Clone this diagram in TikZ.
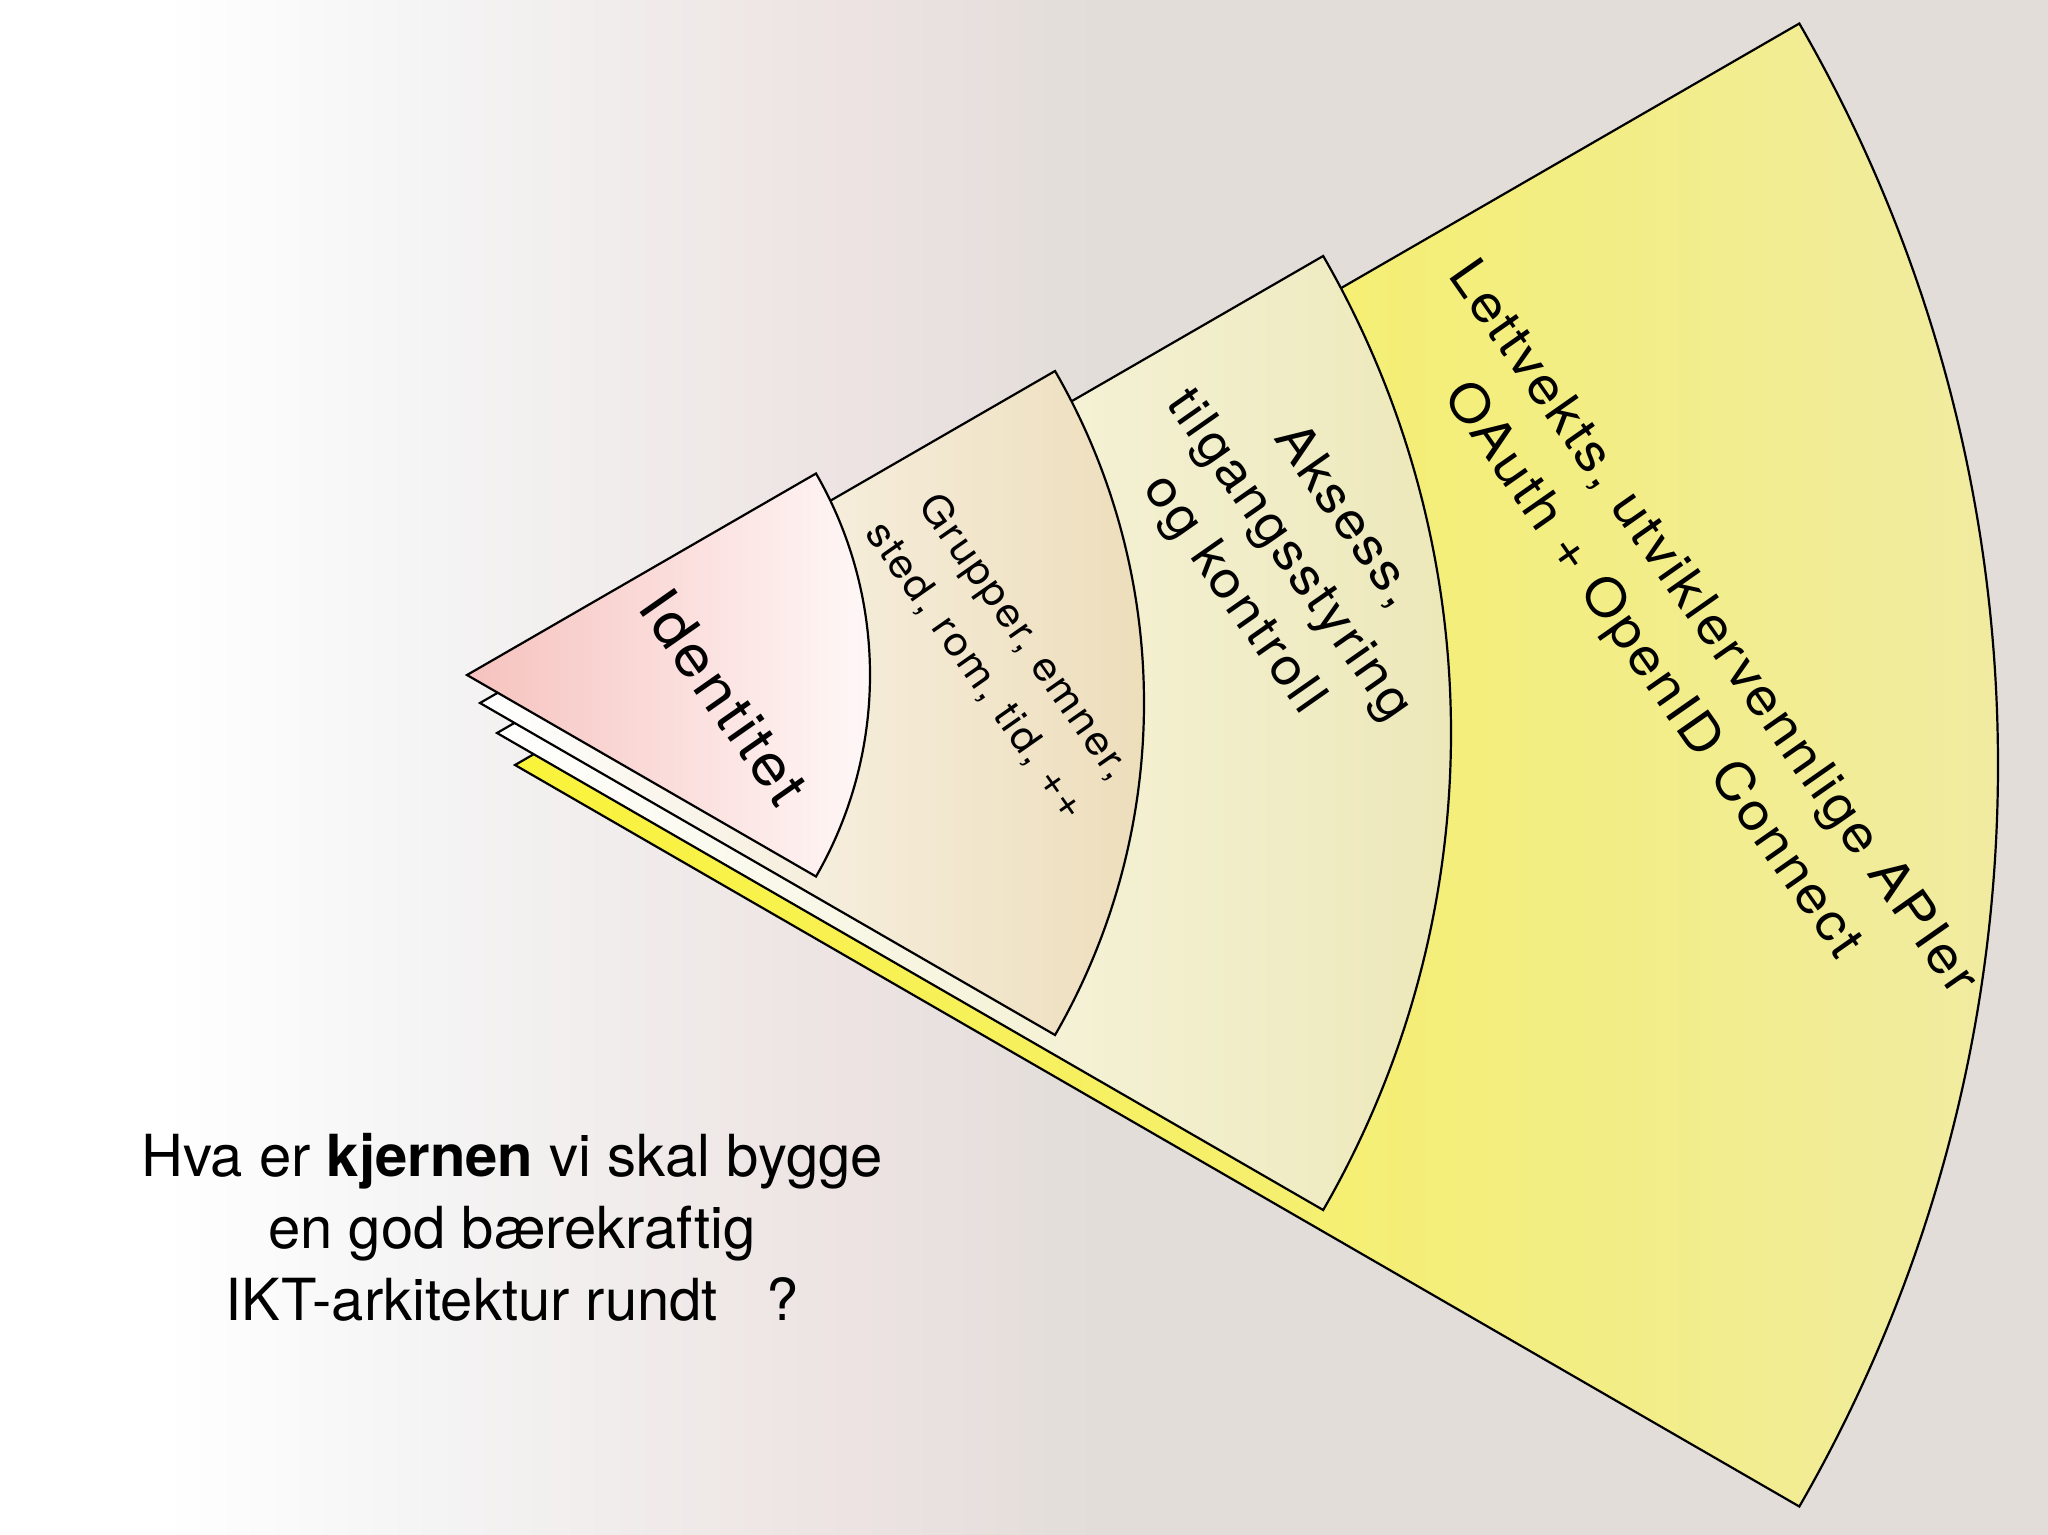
\documentclass[tikz,border=0pt]{standalone}
\usepackage{fontspec}
\setmainfont{TeX Gyre Heros}
\newfontfamily\layerfont{TeX Gyre Heros}[LetterSpace=5]
\definecolor{bgpale}{HTML}{F5F5F5}
\definecolor{bgmist}{HTML}{F0EBEA}
\definecolor{bgrose}{HTML}{ECE3E2}
\definecolor{bgtaupe}{HTML}{E2DDD9}
\definecolor{idpink}{HTML}{F6C2BE}
\definecolor{idwhite}{HTML}{FFFAFA}
\definecolor{grtan}{HTML}{ECDCB8}
\definecolor{akcream}{HTML}{ECE7B6}
\definecolor{apibright}{HTML}{FAF33A}
\definecolor{apipale}{HTML}{F0EBA6}
\pgfdeclarehorizontalshading{backdrop}{100bp}{color(0bp)=(white); color(25bp)=(white);
    color(29bp)=(white); color(35bp)=(bgpale); color(41bp)=(bgmist); color(46bp)=(bgrose);
    color(52bp)=(bgtaupe); color(75bp)=(bgtaupe); color(100bp)=(bgtaupe)}
\tikzset{
    wedge/.style={draw=black, line width=2.2pt, line join=miter},
    layer label/.style={rotate=-55, xscale=1.08, align=center, inner sep=0pt},
    question/.style={align=center, inner sep=0pt, font=\fontsize{58}{72}\selectfont},
}

\begin{document}
\begin{tikzpicture}[x=1pt, y=-1pt]
    \useasboundingbox (0,0) rectangle (2048,1534);
    \shade[shading=backdrop] (0,0) rectangle (2048,1534);
    % layers, outermost first
    \path[wedge, left color=apibright, right color=apipale] (515,765) -- ++(-30:1483) arc[start angle=-30, end angle=30, radius=1483] -- cycle;
    \path[wedge, left color=white, right color=akcream] (497,733) -- ++(-30:954) arc[start angle=-30, end angle=30, radius=954] -- cycle;
    \path[wedge, left color=white, right color=grtan] (480,703) -- ++(-30:664) arc[start angle=-30, end angle=30, radius=664] -- cycle;
    \path[wedge, left color=idpink, right color=idwhite] (467,675) -- ++(-30:403) arc[start angle=-30, end angle=30, radius=403] -- cycle;
    \node[layer label, font=\layerfont\fontsize{58}{70}\selectfont] (identitet) at (724,697) {Identitet};
    \node[layer label, font=\layerfont\fontsize{40}{59}\selectfont] (grupper) at (1000,654) {Grupper, emner,\\sted, rom, tid, ++};
    \node[layer label, font=\layerfont\fontsize{51}{68}\selectfont] (aksess) at (1288,556) {Aksess,\\tilgangsstyring\\og kontroll};
    \node[layer label, font=\layerfont\fontsize{52}{73}\selectfont] (apier) at (1681,650) {Lettvekts, utviklervennlige APIer\\OAuth + OpenID Connect};
    \node[question, anchor=north] (kjerne) at (512,1133) {Hva er \textbf{kjernen} vi skal bygge\\en god bærekraftig\\IKT-arkitektur rundt~~~?};
\end{tikzpicture}
\end{document}
